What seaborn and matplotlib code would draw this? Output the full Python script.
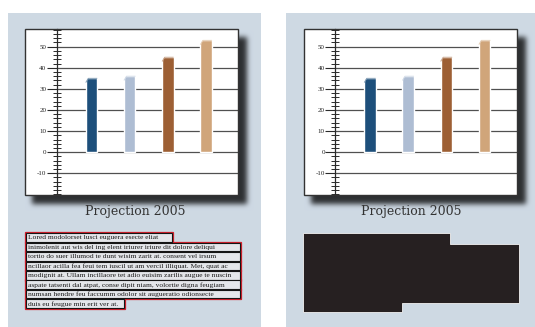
import numpy as np
import pandas as pd
import matplotlib
matplotlib.use("Agg")
import matplotlib.pyplot as plt
import seaborn as sns
from matplotlib.patches import Rectangle, Polygon
from matplotlib.ticker import FixedLocator, MultipleLocator

# ---------------- data ----------------
categories = ["Series 1", "Series 2", "Series 3", "Series 4"]
values = [35, 36, 45, 53]
bar_colors = ["#1d4f7b", "#aebdd3", "#9d5f34", "#d0a57a"]
major_ticks = [-10, 0, 10, 20, 30, 40, 50]
title_text = "Projection 2005"
body_lines = [
    "Lored modolorset lusci euguera esecte eliat",
    "inimolenit aut wis del ing elent iriurer iriure dit dolore deliqui",
    "tortio do suer illumod te dunt wisim zarit at. consent vel irsum",
    "ncillaor acilla fea feui tem iuscil ut am vercil illiquat. Met, quat ac",
    "modignit at. Ullam incillaore tet adio euisim zarilis augue te nuscin",
    "aspate tatsenti dal atpat, conse dipit niam, volortie digna feugiam",
    "numsan hendre feu faccumm odolor sit augueratio odionsecte",
    "duis eu feugue min erit ver at.",
]

sns.set_theme(style="white")
plt.rcParams["font.family"] = ["Liberation Serif", "DejaVu Serif"]
plt.rcParams["axes.unicode_minus"] = False

W, H = 535, 327
fig = plt.figure(figsize=(W / 100, H / 100), dpi=100)

# ---------------- background (panels + shadows) ----------------
panel = np.array([0.808, 0.851, 0.894])
img = np.ones((H, W, 3))
img[13:, 8:261] = panel
img[13:, 286:] = panel

mask = np.zeros((H, W))
mask[37:204, 32:247] = 1.0
mask[37:204, 311:526] = 1.0


def blur(a, s):
    r = np.arange(-int(3 * s), int(3 * s) + 1)
    k = np.exp(-0.5 * (r / s) ** 2)
    k /= k.sum()
    a = np.apply_along_axis(lambda v: np.convolve(v, k, mode="same"), 0, a)
    a = np.apply_along_axis(lambda v: np.convolve(v, k, mode="same"), 1, a)
    return a


sh = blur(mask, 2.6)
img = img * (1 - 0.78 * sh[..., None])

bg = fig.add_axes([0, 0, 1, 1], zorder=-10)
bg.imshow(img, extent=[0, W, H, 0], aspect="auto", interpolation="bilinear")
bg.set_xlim(0, W)
bg.set_ylim(H, 0)
bg.axis("off")

df = pd.DataFrame({"cat": categories, "val": values})


def make_chart(x_left):
    ax = fig.add_axes([x_left / W, 1 - 195 / H, 213 / W, 166 / H], zorder=2)
    ax.set_facecolor("white")
    sns.barplot(data=df, x="cat", y="val", hue="cat", palette=bar_colors,
                width=0.30, saturation=1, legend=False, ax=ax, zorder=3)
    bars = [p for p in ax.patches if isinstance(p, Rectangle)]
    ax.set_xlim(-1.74, 3.835)
    ax.set_ylim(-20.3, 58.4)
    for s in ax.spines.values():
        s.set_visible(False)
    ax.spines["left"].set_visible(True)
    ax.spines["left"].set_position(("axes", 0.150))
    ax.spines["left"].set_color("#2a2a2a")
    ax.spines["left"].set_linewidth(0.9)
    ax.yaxis.set_major_locator(FixedLocator(major_ticks))
    ax.yaxis.set_minor_locator(MultipleLocator(2))
    ax.tick_params(axis="y", which="major", left=True, direction="out",
                   length=7, width=0.8, color="#2a2a2a", labelsize=5,
                   pad=0.6, labelcolor="#222222")
    ax.tick_params(axis="y", which="minor", left=True, direction="inout",
                   length=6, width=0.7, color="#2a2a2a")
    ax.set_xticks([])
    ax.set_xlabel("")
    ax.set_ylabel("")
    for t in major_ticks:
        ax.axhline(t, xmin=0.150, xmax=1, color="#505050", lw=0.9, zorder=1)
    # bevelled tops, derived from the drawn bars
    for p in bars:
        x0, w, h = p.get_x(), p.get_width(), p.get_height()
        fc = np.array(p.get_facecolor()[:3])
        ax.add_patch(Polygon([(x0 - 0.01, h + 0.1), (x0 + 0.22 * w, h + 0.1),
                              (x0 - 0.01, h - 2.0)], closed=True,
                             fc="white", ec="none", zorder=4))
        light = fc + (1 - fc) * 0.45
        ax.plot([x0, x0 + 0.22 * w, x0 + w], [h - 2.0, h, h],
                color=light, lw=0.7, zorder=4, solid_capstyle="butt")
    # box frame
    ax.add_patch(Rectangle((0, 0), 1, 1, transform=ax.transAxes, fill=False,
                           ec="#333333", lw=1.0, clip_on=False, zorder=5))
    return ax


make_chart(25)
make_chart(303.5)

# titles
for cx in (135, 411.5):
    bg.text(cx, 212, title_text, ha="center", va="center",
            fontsize=9, color="#333333",
            family=["DejaVu Serif"])

# left body text with boxed lines
pitch = 9.43
right_edges = [172, 240, 240, 240, 240, 240, 240, 123.5]
texts = []
for i, line in enumerate(body_lines):
    top = 233.3 + pitch * i
    x1 = right_edges[i]
    bg.add_patch(Rectangle((25, top - 1), x1 - 25 + 1, 8.6 + 2, fill=False,
                           ec="#d01f2b", lw=0.9, zorder=2))
    bg.add_patch(Rectangle((26, top), x1 - 26, 8.6, fc="#e4e6ea",
                           ec="#151515", lw=0.8, zorder=3))
    t = bg.text(27.5, top + 4.5, line, ha="left", va="center", fontsize=4.6,
                color="#1a1a1a", zorder=4)
    texts.append((t, x1 - 29))

fig.canvas.draw()
r = fig.canvas.get_renderer()
for t, target in texts:
    wpx = t.get_window_extent(r).width
    if wpx > 0:
        t.set_fontsize(min(5.4, t.get_fontsize() * target / wpx))

# right redaction block
bg.add_patch(Polygon([(303, 233), (450, 233), (450, 244), (519, 244),
                      (519, 303), (402, 303), (402, 312), (303, 312)],
                     closed=True, fc="#262021", ec="#f2f2f2", lw=0.6,
                     zorder=3))

fig.savefig("out.png", dpi=100)
